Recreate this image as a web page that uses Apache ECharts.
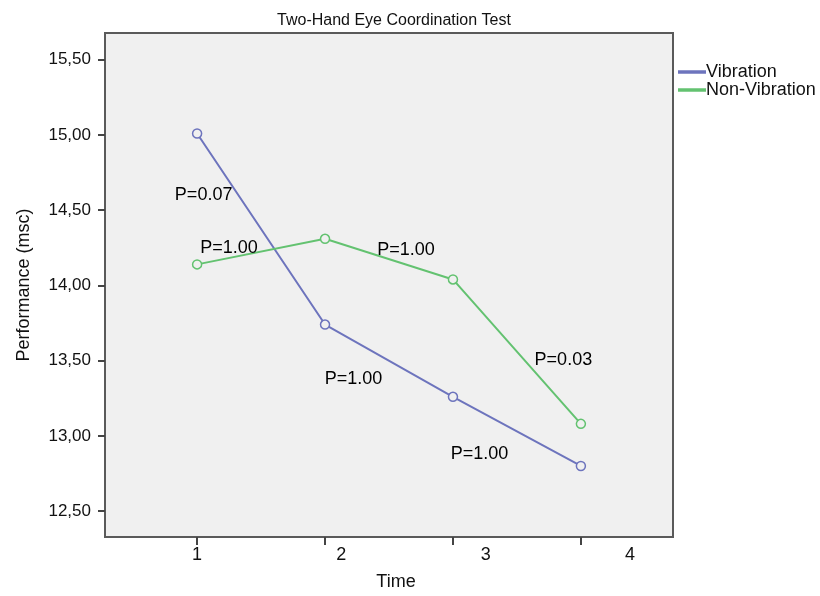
<!DOCTYPE html>
<html>
<head>
<meta charset="utf-8">
<script src="https://cdn.jsdelivr.net/npm/echarts@6/dist/echarts.min.js"></script>
<style>
html,body{margin:0;padding:0;background:#fff;}
#chart{width:820px;height:596px;}
</style>
</head>
<body>
<div id="chart"></div>
<script>
// ---- data ----
const timePoints = [1, 2, 3, 4];
const timeLabels = ['1', '2', '3', '4'];
const vibration = [15.01, 13.74, 13.26, 12.80];
const nonVibration = [14.14, 14.31, 14.04, 13.08];
const yTicks = [12.5, 13.0, 13.5, 14.0, 14.5, 15.0, 15.5];
const pTexts = ['P=0.07', 'P=1.00', 'P=1.00', 'P=1.00', 'P=1.00', 'P=0.03'];
const pX = [1.055, 1.254, 2.637, 2.227, 3.211, 3.867];
const pY = [14.595, 14.244, 14.229, 13.372, 12.876, 13.499];
const seriesNames = ['Vibration', 'Non-Vibration'];

// ---- style ----
const FONT = 'Liberation Sans, Arial, sans-serif';
const C_VIB = '#6d74bd';
const C_NON = '#63c270';
const BG = '#f0f0f0';

const chart = echarts.init(document.getElementById('chart'), null, {renderer: 'canvas'});

const pairs = (ys) => timePoints.map((x, i) => [x, ys[i]]);

const option = {
  backgroundColor: '#ffffff',
  animation: false,
  title: {
    text: 'Two-Hand Eye Coordination Test',
    left: 389,
    textAlign: 'center',
    top: 8,
    textStyle: {fontFamily: FONT, fontSize: 16, fontWeight: 'normal', color: '#111'}
  },
  legend: {
    orient: 'vertical',
    left: 678,
    top: 63,
    padding: 0,
    itemWidth: 26,
    itemHeight: 1.5,
    itemGap: 0,
    icon: 'rect',
    textStyle: {fontFamily: FONT, fontSize: 18, color: '#111', lineHeight: 17, padding: [0, 0, 0, -4]},
    data: [
      {name: seriesNames[0], itemStyle: {color: C_VIB}},
      {name: seriesNames[1], itemStyle: {color: C_NON}}
    ]
  },
  grid: {
    left: 105, right: 147, top: 33, bottom: 56,
    show: true,
    backgroundColor: BG,
    borderColor: '#5a5a5a',
    borderWidth: 2
  },
  xAxis: [
    {
      type: 'value',
      min: 0.28, max: 4.72,
      position: 'bottom',
      name: 'Time',
      nameLocation: 'middle',
      nameGap: 36,
      nameTextStyle: {fontFamily: FONT, fontSize: 18, color: '#111', padding: [0, 0, 0, 14]},
      axisLine: {show: true, onZero: false, lineStyle: {color: '#5a5a5a', width: 2}},
      axisTick: {show: true, customValues: timePoints, length: 8, lineStyle: {color: '#444', width: 2}},
      axisLabel: {show: false},
      splitLine: {show: false}
    },
    {
      type: 'value',
      min: 0.362, max: 4.298,
      position: 'bottom',
      axisLine: {show: false, onZero: false},
      axisTick: {show: false},
      splitLine: {show: false},
      axisLabel: {
        show: true,
        customValues: timePoints,
        margin: 9,
        fontFamily: FONT, fontSize: 18, color: '#111',
        formatter: (v) => timeLabels[timePoints.indexOf(Math.round(v))]
      }
    }
  ],
  yAxis: {
    type: 'value',
    min: 12.328, max: 15.678,
    name: 'Performance (msc)',
    nameLocation: 'middle',
    nameGap: 72,
    nameTextStyle: {fontFamily: FONT, fontSize: 18, color: '#111'},
    axisLine: {show: true, onZero: false, lineStyle: {color: '#5a5a5a', width: 2}},
    axisTick: {show: true, customValues: yTicks, length: 7, lineStyle: {color: '#444', width: 2}},
    axisLabel: {
      customValues: yTicks,
      margin: 14,
      fontFamily: FONT, fontSize: 17, color: '#111',
      formatter: (v) => v.toFixed(2).replace('.', ',')
    },
    splitLine: {show: false}
  },
  series: [
    {
      name: seriesNames[0],
      type: 'line',
      xAxisIndex: 0,
      data: pairs(vibration),
      symbol: 'circle',
      symbolSize: 9,
      lineStyle: {color: C_VIB, width: 2},
      itemStyle: {color: BG, borderColor: C_VIB, borderWidth: 1.5},
      z: 3
    },
    {
      name: seriesNames[1],
      type: 'line',
      xAxisIndex: 0,
      data: pairs(nonVibration),
      symbol: 'circle',
      symbolSize: 9,
      lineStyle: {color: C_NON, width: 2},
      itemStyle: {color: BG, borderColor: C_NON, borderWidth: 1.5},
      z: 3
    },
    {
      name: 'annotations',
      type: 'scatter',
      xAxisIndex: 0,
      silent: true,
      symbolSize: 1,
      itemStyle: {color: 'rgba(0,0,0,0)', opacity: 1},
      z: 5,
      label: {
        show: true,
        position: [0, 0],
        align: 'center',
        verticalAlign: 'middle',
        fontFamily: FONT, fontSize: 18, color: '#000',
        textBorderWidth: 0,
        formatter: (p) => p.name
      },
      data: pTexts.map((t, i) => ({name: t, value: [pX[i], pY[i]]}))
    }
  ]
};

chart.setOption(option);
</script>
</body>
</html>
